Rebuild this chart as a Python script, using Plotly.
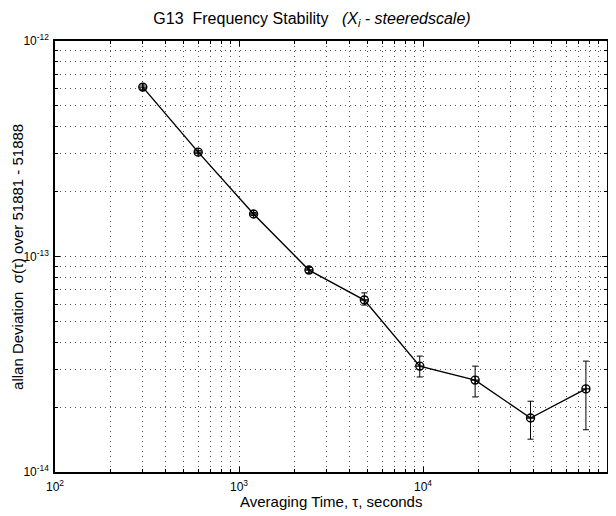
import plotly.graph_objects as go

tau = [300, 600, 1200, 2400, 4800, 9600, 19200, 38400, 76800]
adev = [6.11e-13, 3.05e-13, 1.575e-13, 8.65e-14, 6.28e-14, 3.10e-14, 2.67e-14, 1.78e-14, 2.43e-14]
err_hi = [6.25e-13, 3.10e-13, 1.60e-13, 8.90e-14, 6.78e-14, 3.45e-14, 3.10e-14, 2.13e-14, 3.27e-14]
err_lo = [5.97e-13, 3.00e-13, 1.55e-13, 8.40e-14, 5.95e-14, 2.76e-14, 2.23e-14, 1.42e-14, 1.57e-14]

x_tickvals = [1e2, 1e3, 1e4, 1e5]
x_ticktext = ["10<sup>2</sup>", "10<sup>3</sup>", "10<sup>4</sup>", "10<sup>5</sup>"]
y_tickvals = [1e-14, 1e-13, 1e-12]
y_ticktext = ["10<sup>-14</sup>", "10<sup>-13</sup>", "10<sup>-12</sup>"]

x_title = "Averaging Time, τ, seconds"
y_title = "allan Deviation  σ(τ) over 51881 - 51888"
title = "G13  Frequency Stability   <i>(X<sub>i</sub> - steeredscale)</i>"

plus = [h - v for h, v in zip(err_hi, adev)]
minus = [v - l for l, v in zip(err_lo, adev)]

FONT = "Liberation Sans, Arial, sans-serif"

fig = go.Figure()
fig.add_trace(go.Scatter(
    x=tau, y=adev, mode="lines+markers",
    line=dict(color="black", width=1.4),
    marker=dict(symbol="circle-cross-open", size=8, color="black", line=dict(width=1.4)),
    error_y=dict(type="data", symmetric=False, array=plus, arrayminus=minus,
                 color="black", thickness=1, width=3),
    showlegend=False,
))

axis_common = dict(
    type="log", showline=True, linecolor="black", linewidth=1.5, mirror="ticks",
    ticks="inside", ticklen=5, tickcolor="black",
    showgrid=True, gridcolor="#444", griddash="1px,4px", gridwidth=1,
    zeroline=False, automargin=False,
    tickfont=dict(family=FONT, size=12, color="black"),
    minor=dict(ticks="inside", ticklen=3, tickcolor="black", showgrid=True,
               gridcolor="#555", griddash="1px,4px", gridwidth=1, dtick="D1"),
)

fig.update_xaxes(**axis_common, range=[2, 5], tickvals=x_tickvals, ticktext=x_ticktext,
                 ticklabelstandoff=3)
fig.update_yaxes(**axis_common, range=[-14, -12], tickvals=y_tickvals, ticktext=y_ticktext,
                 ticklabelstandoff=2)

fig.add_annotation(text=x_title, xref="paper", yref="paper", x=0.5, y=-0.068,
                   xanchor="center", yanchor="middle", showarrow=False,
                   font=dict(family=FONT, size=15, color="black"))
fig.add_annotation(text=y_title, xref="paper", yref="paper", x=-0.068, y=0.5,
                   xanchor="center", yanchor="middle", showarrow=False, textangle=-90,
                   font=dict(family=FONT, size=15, color="black"))

fig.update_layout(
    width=608, height=508,
    margin=dict(l=47, r=9, t=33, b=44),
    paper_bgcolor="white", plot_bgcolor="white",
    title=dict(text=title, x=0.5, xanchor="center", y=1 - 10 / 508, yanchor="middle",
               font=dict(family=FONT, size=16, color="black")),
)

fig.write_html("out.html")
